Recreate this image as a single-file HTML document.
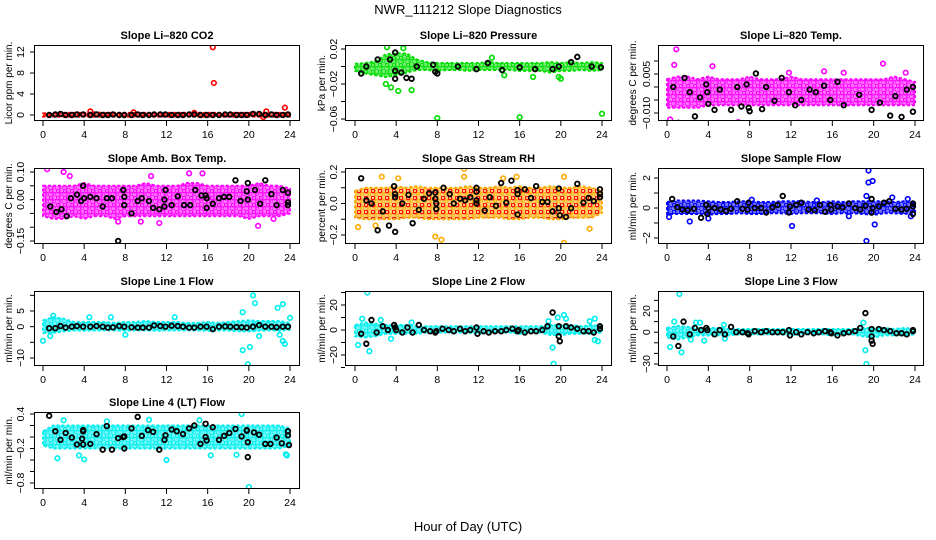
<!DOCTYPE html>
<html><head><meta charset="utf-8">
<style>
body{margin:0;background:#fff;}
svg{display:block;font-family:"Liberation Sans",sans-serif;}
</style></head>
<body>
<svg id="chart" width="936" height="540" viewBox="0 0 936 540">
<defs id="defs"></defs>
<text x="468" y="14" text-anchor="middle" font-size="13">NWR_111212  Slope Diagnostics</text>
<text x="468" y="531" text-anchor="middle" font-size="13">Hour of Day (UTC)</text>
</svg>
<script>
// ---- shared data ----
const hours = [0,1,2,3,4,5,6,7,8,9,10,11,12,13,14,15,16,17,18,19,20,21,22,23,24];
const xTicks = [0,4,8,12,16,20,24];

// Panel 1: CO2
const co2Lo = [-0.3,-0.3,-0.3,-0.3,-0.3,-0.3,-0.3,-0.3,-0.3,-0.3,-0.3,-0.3,-0.3,-0.3,-0.3,-0.3,-0.3,-0.3,-0.3,-0.3,-0.3,-0.3,-0.3,-0.3,-0.3];
const co2Hi = [0.3,0.4,0.4,0.4,0.4,0.5,0.4,0.4,0.4,0.4,0.4,0.4,0.4,0.4,0.4,0.4,0.4,0.4,0.4,0.4,0.4,0.5,0.4,0.4,0.3];
const co2OutX = [16.5,16.6,23.5,4.6,21.7,21.4,8.8,14.7];
const co2OutY = [12.9,6.1,1.4,0.7,0.7,-0.4,0.5,0.4];
const co2BlkX = [0.6,1.2,1.7,2.2,2.8,3.3,3.9,4.6,5.2,5.8,6.3,6.8,7.4,7.9,8.6,9.2,9.7,10.3,10.8,11.4,11.9,12.5,13.1,13.6,14.2,14.7,15.3,15.9,16.5,17.1,17.7,18.2,18.8,19.3,19.8,20.4,21.0,21.6,22.2,22.7,23.3,23.8];
const co2BlkY = [0.0,0.1,0.2,0.0,0.0,0.1,0.1,0.0,0.1,0.0,0.0,0.1,0.0,0.0,0.0,0.1,0.0,0.0,0.1,0.1,0.1,0.0,0.0,0.0,0.1,0.1,0.0,0.0,0.0,0.0,0.1,0.1,0.0,0.0,0.0,0.2,0.2,0.0,0.1,0.0,0.0,0.1];

// Panel 2: Pressure
const prLo = [-0.005,-0.008,-0.01,-0.012,-0.01,-0.007,-0.004,-0.004,-0.005,-0.004,-0.004,-0.005,-0.004,-0.004,-0.004,-0.004,-0.005,-0.005,-0.005,-0.007,-0.005,-0.005,-0.004,-0.005,-0.004];
const prHi = [0.003,0.004,0.006,0.014,0.015,0.015,0.008,0.005,0.004,0.004,0.004,0.004,0.004,0.005,0.004,0.004,0.004,0.004,0.004,0.005,0.004,0.005,0.004,0.005,0.004];
const prOutX = [3,3.5,4.2,5.5,8,16,24,13.3,17.3,14.5,20,3.1,4.7,19.8];
const prOutY = [-0.02,-0.024,-0.028,-0.027,-0.059,-0.058,-0.054,0.01,-0.012,-0.01,-0.014,0.022,0.021,-0.012];
const prBlkX = [0.6,1.1,2.2,3.4,3.9,3.9,3.9,4.5,5.0,5.5,6.0,7.6,7.8,8.0,10.0,11.8,12.9,14.3,16.0,17.5,19.2,19.8,21.0,21.6,23.0,23.9];
const prBlkY = [-0.008,0,0.008,0.008,0.016,-0.005,-0.014,-0.007,-0.013,-0.014,0,0.002,-0.006,-0.008,0,-0.003,0.004,-0.004,-0.001,-0.003,-0.003,0,0.005,0.011,0,-0.001];

// Panel 3: Li-820 temp
const tLo = [-0.008,-0.008,-0.008,-0.008,-0.007,-0.007,-0.007,-0.007,-0.007,-0.007,-0.007,-0.007,-0.007,-0.007,-0.007,-0.007,-0.007,-0.007,-0.007,-0.007,-0.007,-0.007,-0.007,-0.007,-0.007];
const tHi = [0.003,0.004,0.004,0.003,0.004,0.003,0.003,0.003,0.004,0.003,0.003,0.003,0.004,0.003,0.003,0.003,0.003,0.003,0.003,0.003,0.003,0.003,0.004,0.003,0.002];
const tOutX = [0.9,0.7,11.8,20.9,3.3,8.5,6.9,0.3,4.4,23.1,15.2,17.1];
const tOutY = [0.0145,0.0085,0.0055,0.009,-0.0145,-0.016,-0.0135,-0.0125,0.008,0.0055,0.006,0.0055];
const tBlkX = [0.6,1.1,1.7,2.2,2.7,3.2,3.8,3.9,4.0,4.6,5.1,6.2,6.8,7.2,7.7,7.9,8.0,8.6,9.2,9.6,10.4,11.1,11.8,12.4,13.0,13.8,14.4,15.2,15.8,16.5,17.1,18.6,19.8,20.6,21.6,22.1,22.7,23.2,23.8,23.8];
const tBlkY = [0,-0.0138,0.0035,-0.002,-0.0113,-0.004,0.001,-0.002,-0.0065,-0.0088,-0.001,-0.0088,0,-0.0075,0.001,-0.008,-0.0093,0.0052,-0.0085,0,-0.0053,0.0035,-0.002,-0.007,-0.005,-0.001,-0.002,0.0005,-0.005,0.002,-0.007,-0.003,-0.0088,-0.006,-0.011,-0.0035,-0.0115,-0.001,-0.0095,0];

// Panel 4: Amb box temp
const aLo = [-0.06,-0.07,-0.07,-0.06,-0.07,-0.06,-0.06,-0.07,-0.06,-0.06,-0.06,-0.06,-0.06,-0.06,-0.06,-0.06,-0.06,-0.06,-0.06,-0.06,-0.07,-0.06,-0.06,-0.06,-0.05];
const aHi = [0.05,0.05,0.05,0.05,0.06,0.05,0.05,0.05,0.05,0.05,0.06,0.05,0.05,0.05,0.06,0.06,0.05,0.05,0.05,0.05,0.05,0.06,0.05,0.05,0.04];
const aOutX = [0.4,2.0,2.6,7.3,11.3,20.9,22.4,15.5,10.5,14.2,9.5];
const aOutY = [0.11,0.1,0.085,-0.08,-0.085,-0.095,-0.07,0.095,0.085,0.095,-0.08];
const aBlkX = [0.7,1.3,1.8,2.3,2.7,3.3,3.7,3.9,4.0,4.6,5.2,5.8,6.2,6.7,7.3,7.8,7.9,7.9,8.6,9.2,9.6,10.3,10.7,11.3,11.8,11.8,11.9,12.5,13.1,13.7,14.3,14.8,15.4,15.8,15.9,15.9,16.5,17.1,17.6,18.1,18.7,19.2,19.8,19.9,19.9,20.6,21.1,21.6,22.2,22.7,23.3,23.8,23.8,23.8];
const aBlkY = [-0.025,-0.045,-0.035,-0.06,0.005,0.018,-0.005,0.05,0.005,0.01,0.005,-0.025,0.005,0.005,-0.15,0.035,0.01,-0.02,-0.05,-0.005,0.005,-0.005,-0.03,-0.035,-0.025,0,0.035,-0.02,0.012,-0.02,-0.02,0.035,0.015,0.015,0.005,-0.03,-0.015,0.005,0.01,0.01,0.07,-0.005,0.03,0.06,0,0.035,-0.015,0.07,0.02,-0.02,0.035,0.025,-0.01,-0.02];

// Panel 5: Gas stream RH
const rLo = [-0.09,-0.1,-0.1,-0.1,-0.1,-0.09,-0.09,-0.1,-0.1,-0.1,-0.1,-0.1,-0.09,-0.09,-0.09,-0.1,-0.1,-0.09,-0.09,-0.1,-0.1,-0.09,-0.09,-0.09,-0.06];
const rHi = [0.08,0.1,0.1,0.1,0.11,0.1,0.11,0.1,0.1,0.1,0.1,0.11,0.1,0.1,0.11,0.1,0.11,0.1,0.1,0.11,0.1,0.1,0.11,0.1,0.08];
const rOutX = [10.6,10.6,2.6,7.8,8.4,20.3,22.8,0.3,20.3,15.7,14.4,4.2,2.0];
const rOutY = [0.22,0.17,0.17,-0.21,-0.23,-0.25,-0.16,-0.15,0.17,0.17,0.16,0.16,-0.14];
const rBlkX = [0.6,1.1,1.6,2.2,2.7,3.3,3.8,3.9,3.9,3.9,4.6,5.2,5.6,6.2,6.7,7.2,7.8,7.8,7.9,7.9,8.6,9.2,9.6,10.2,10.7,11.2,11.8,11.8,11.8,11.8,12.6,13.1,13.7,14.2,14.7,15.2,15.8,15.8,15.8,16.5,17.1,17.6,18.2,18.7,19.2,19.8,19.8,19.9,20.5,21.0,21.6,22.2,22.7,23.2,23.8,23.8,23.8];
const rBlkY = [0.16,0.02,0,-0.17,-0.05,-0.14,0.11,0.06,0.04,-0.18,0,0.055,-0.125,-0.04,0.03,0.065,0.07,0.03,0,-0.035,0.1,0.06,0,0.03,0.02,0.04,0.1,0.075,0.02,0,-0.045,0.04,-0.015,0.13,0.005,0.145,0.085,0.06,-0.07,0.09,0.035,0.11,0.01,0.01,-0.05,0.095,-0.03,-0.075,-0.085,-0.03,0.125,0.005,0.035,0.015,0.09,0.06,0.04];

// Panel 6: Sample flow
const sLo = [-0.4,-0.4,-0.4,-0.4,-0.45,-0.4,-0.4,-0.35,-0.4,-0.4,-0.35,-0.35,-0.4,-0.35,-0.35,-0.35,-0.4,-0.35,-0.35,-0.4,-0.45,-0.35,-0.35,-0.4,-0.3];
const sHi = [0.4,0.5,0.5,0.5,0.45,0.4,0.4,0.45,0.45,0.4,0.4,0.45,0.45,0.45,0.4,0.4,0.45,0.4,0.45,0.45,0.45,0.45,0.4,0.45,0.3];
const sOutX = [19.5,19.5,19.9,19.3,20.1,12.1,2.2,4.0,19.3,21.8,23.3,0.2,8.2,14.5,17.6,23.6];
const sOutY = [2.5,1.7,1.8,-2.2,-1.1,-1.2,-0.9,-0.7,0.8,0.7,0.6,-0.6,0.55,0.5,-0.55,-0.55];
const sBlkX = [0.5,1.0,1.5,2.0,2.6,3.3,3.8,3.9,4.0,4.6,5.2,5.7,6.2,6.8,7.3,7.8,7.9,8.5,9.1,9.6,10.2,10.7,11.2,11.8,11.9,12.5,13.0,13.7,14.3,14.8,15.3,15.8,15.9,16.5,17.0,17.6,18.2,18.7,19.2,19.8,19.8,19.9,20.5,21.0,21.5,22.1,22.7,23.2,23.8,23.8,23.8];
const sBlkY = [0.6,0.05,-0.1,-0.15,-0.05,-0.65,0.2,-0.4,0,0,-0.1,-0.2,-0.05,0.45,-0.05,-0.1,0.35,0,0,-0.3,0.05,0.2,0.8,-0.3,0.1,0.2,0.35,-0.1,-0.15,0.2,-0.25,0.2,-0.1,0.1,0.05,0.3,0,-0.1,0.15,0.6,-0.3,0,0.1,0.35,0.45,-0.05,-0.1,-0.05,0.3,0.1,-0.4];

// Panel 7: Line 1 flow
const l1Lo = [-2,-2,-1.5,-1.2,-1.3,-1.2,-1.2,-1.2,-1.3,-1.2,-1.2,-1.3,-1.2,-1.2,-1.2,-1.2,-1.3,-1.2,-1.2,-1.5,-1.5,-1.3,-1.2,-1.3,-1];
const l1Hi = [2,3,2.5,1.5,1.5,1.5,1.5,1.2,1.5,1.5,1.8,1.5,1.5,1.5,1.2,1.2,1.5,1.2,1.5,1.8,2,1.8,1.8,1.8,1.2];
const l1OutX = [0,0.7,1,20.4,20.6,19.4,20.1,19.9,22.8,23.3,23,23.3,23.5,19.4,24,4.5,8,12.8,21,6.6];
const l1OutY = [-4.5,-3,3.5,10,7.5,-7.5,-6.5,-12,6,7.2,-2.6,-4.6,-5.5,4.6,2.8,3,-2.6,3,-3,3];
const l1BlkX = [0.6,1.2,1.7,2.2,2.8,3.3,3.9,4.6,5.2,5.8,6.3,6.8,7.4,7.9,8.6,9.2,9.7,10.3,10.8,11.4,11.9,12.5,13.1,13.6,14.2,14.7,15.3,15.9,16.5,17.1,17.7,18.2,18.8,19.3,19.8,20.4,21.0,21.6,22.2,22.7,23.3,23.8];
const l1BlkY = [-0.5,-0.5,0.2,-0.3,0,0.2,0,0,0.2,0,-0.3,-0.2,0.2,0,-0.2,-0.3,-0.3,-0.3,0.4,0.2,0,0.3,0.2,0,-0.3,-0.3,0,0,-0.8,0,0.1,0,-0.1,-0.2,-0.3,0,0.5,0,0,-0.2,0,0];

// Panel 8: Line 2 flow
const l2Lo = [-5,-6,-5,-3,-3,-3,-3,-2,-2,-2,-2,-2,-3,-2,-2,-2,-3,-2,-2,-4,-4,-3,-3,-3,-2];
const l2Hi = [4,6,5,4,4,4,3,3,3,3,3,3,3,3,3,3,3,3,3,4,4,4,3,4,3];
const l2OutX = [1.2,0.3,1.4,0.7,2.5,3.5,5.5,19.2,19.3,19.7,20.3,20.5,22.8,23.3,23.3,23.6,18.8];
const l2OutY = [30,-12,-17,9,8,-7,6,-14,-27,10,12,9,7,9,-8,-9,7];
const l2BlkX = [0.6,1.1,1.6,2.1,2.7,3.2,3.8,3.9,4.0,4.6,5.1,5.6,6.2,6.7,7.3,7.8,7.9,8.5,9.1,9.6,10.2,10.7,11.2,11.8,11.9,12.5,13.0,13.6,14.2,14.7,15.3,15.8,15.9,16.5,17.1,17.6,18.2,18.7,19.2,19.8,19.8,19.9,20.5,21.0,21.6,22.2,22.7,23.2,23.8,23.8];
const l2BlkY = [-3,-11,8,-2,3,0,4,2,0,-2,2,-2,4,0,-1,-2,-1,1,0,-1,1,-1,0,2,-3,-1,-2,-1,-1,0,1,-1,0,-2,-1,-1,0,3,14,3,-5,-9,3,2,1,-1,-1,-2,3,1];

// Panel 9: Line 3 flow
const l3Lo = [-5,-7,-5,-3,-3,-3,-3,-2,-2,-2,-2,-2,-3,-2,-2,-2,-3,-2,-2,-4,-5,-3,-3,-3,-2];
const l3Hi = [4,6,5,4,4,4,3,3,3,3,3,3,3,3,3,3,3,3,3,4,4,4,3,4,3];
const l3OutX = [1.2,0.3,1.4,0.7,2.3,2.8,3.2,3.6,5.5,19.2,19.3,19.0,5.6];
const l3OutY = [36,-14,-19,10,-7,9,9,-8,7,-17,-30,9,-6];
const l3BlkX = [0.6,1.1,1.6,2.2,2.7,3.3,3.8,3.9,4.6,5.1,5.6,6.2,6.7,7.3,7.8,7.9,8.5,9.1,9.6,10.2,10.7,11.2,11.8,11.9,12.5,13.0,13.6,14.2,14.7,15.3,15.8,15.9,16.5,17.1,17.6,18.2,18.7,19.2,19.8,19.8,19.8,19.9,20.5,21.0,21.6,22.2,22.7,23.2,23.8,23.8];
const l3BlkY = [-4,-13,10,-2,4,2,4,2,-2,2,-2,5,0,0,-1,-2,1,0,1,0,0,0,2,-3,0,-2,0,-1,0,1,0,-1,-3,-1,0,1,4,18,3,-4,-8,-11,3,2,1,-1,-1,-2,2,1];

// Panel 10: Line 4 (LT) flow
const l4Lo = [-0.15,-0.2,-0.2,-0.2,-0.2,-0.2,-0.2,-0.2,-0.2,-0.2,-0.2,-0.2,-0.2,-0.2,-0.2,-0.2,-0.2,-0.2,-0.2,-0.2,-0.2,-0.2,-0.2,-0.2,-0.15];
const l4Hi = [0.1,0.2,0.2,0.2,0.2,0.2,0.2,0.2,0.2,0.2,0.2,0.2,0.2,0.2,0.2,0.2,0.2,0.2,0.2,0.2,0.2,0.2,0.2,0.2,0.15];
const l4OutX = [1.4,2.0,3.5,4.0,12,16.3,19.3,20,23.6,23.7,6.2,18.8,10.3,15.2];
const l4OutY = [-0.37,0.29,-0.32,-0.39,-0.4,-0.32,0.4,-0.87,-0.3,-0.32,0.27,-0.31,0.3,0.29];
const l4BlkX = [0.6,1.2,1.7,2.2,2.8,3.3,3.8,3.9,3.9,3.9,4.6,5.2,5.8,6.2,6.7,7.3,7.8,7.9,7.9,8.6,9.2,9.6,10.2,10.7,11.3,11.8,11.9,12.5,13,13.6,14.2,14.7,15.3,15.8,15.8,15.9,16.5,17.1,17.6,18.1,18.7,19.3,19.8,19.8,19.9,19.9,20.5,21,21.6,22.1,22.7,23.2,23.8,23.8,23.9];
const l4BlkY = [0.37,0.1,-0.05,0.07,-0.01,-0.13,-0.03,0.1,0.12,-0.13,-0.12,0.05,-0.22,0.19,-0.22,-0.02,0,-0.2,0.01,0.15,0.35,0.02,0.12,0.09,-0.22,-0.05,0.03,0.13,0.1,0.05,0.15,0.2,-0.12,0.23,0,-0.06,0.17,-0.05,0.02,0.07,0.14,0.01,0.12,0.11,-0.09,-0.35,0.08,0.04,-0.12,-0.12,-0.01,-0.11,0.1,0.03,-0.14];

// ---- layout (presentation only) ----
const cols = [{l:34,r:300,x0:43,x24:290,yl:9,tl:24},{l:345,r:612,x0:355,x24:602,yl:322,tl:337},{l:658,r:924,x0:667,x24:915,yl:633,tl:650}];
const rows = [{t:45,b:121},{t:168,b:244},{t:291,b:366},{t:412,b:489}];

const panels = [
 {name:'co2',title:'Slope Li\u2013820 CO2',c:0,r:0,ylab:'Licor ppm per min.',col:'#ff0000',v1:12,p1:52,v2:0,p2:115,ticks:[0,4,8,12],labs:['0','4','8','12'],lo:co2Lo,hi:co2Hi,ox:co2OutX,oy:co2OutY,bx:co2BlkX,by:co2BlkY},
 {name:'pressure',title:'Slope Li\u2013820 Pressure',c:1,r:0,ylab:'kPa per min.',col:'#00dd00',v1:0.02,p1:49,v2:-0.06,p2:119,ticks:[0.02,0,-0.02,-0.04,-0.06],labs:['0.02','','\u22120.02','','\u22120.06'],lo:prLo,hi:prHi,ox:prOutX,oy:prOutY,bx:prBlkX,by:prBlkY},
 {name:'li820-temp',title:'Slope Li\u2013820 Temp.',c:2,r:0,ylab:'degrees C per min.',col:'#ff00ff',v1:0.005,p1:74,v2:-0.010,p2:113,ticks:[0.01,0.005,0,-0.005,-0.01,-0.015],labs:['','0.005','','','\u22120.010',''],lo:tLo,hi:tHi,ox:tOutX,oy:tOutY,bx:tBlkX,by:tBlkY},
 {name:'amb-box-temp',title:'Slope Amb. Box Temp.',c:0,r:1,ylab:'degrees C per min.',col:'#ff00ff',v1:0.10,p1:172,v2:-0.15,p2:241,ticks:[0.1,0.05,0,-0.05,-0.1,-0.15],labs:['0.10','','0.00','','','\u22120.15'],lo:aLo,hi:aHi,ox:aOutX,oy:aOutY,bx:aBlkX,by:aBlkY},
 {name:'gas-stream-rh',title:'Slope Gas Stream RH',c:1,r:1,ylab:'percent per min.',col:'#ffaa00',dot:'#ff0000',v1:0.2,p1:172,v2:-0.2,p2:235,ticks:[0.2,0.1,0,-0.1,-0.2],labs:['0.2','','0.0','','\u22120.2'],lo:rLo,hi:rHi,ox:rOutX,oy:rOutY,bx:rBlkX,by:rBlkY},
 {name:'sample-flow',title:'Slope Sample Flow',c:2,r:1,ylab:'ml/min per min.',col:'#0000ff',v1:2,p1:178,v2:-2,p2:238,ticks:[2,1,0,-1,-2],labs:['2','','0','','\u22122'],lo:sLo,hi:sHi,ox:sOutX,oy:sOutY,bx:sBlkX,by:sBlkY},
 {name:'line1-flow',title:'Slope Line 1 Flow',c:0,r:2,ylab:'ml/min per min.',col:'#00eeee',v1:5,p1:311,v2:-10,p2:358,ticks:[10,5,0,-5,-10],labs:['','5','0','','\u221210'],lo:l1Lo,hi:l1Hi,ox:l1OutX,oy:l1OutY,bx:l1BlkX,by:l1BlkY},
 {name:'line2-flow',title:'Slope Line 2 Flow',c:1,r:2,ylab:'ml/min per min.',col:'#00eeee',v1:20,p1:305,v2:-20,p2:355,ticks:[30,20,10,0,-10,-20,-30],labs:['','20','','0','','\u221220',''],lo:l2Lo,hi:l2Hi,ox:l2OutX,oy:l2OutY,bx:l2BlkX,by:l2BlkY},
 {name:'line3-flow',title:'Slope Line 3 Flow',c:2,r:2,ylab:'ml/min per min.',col:'#00eeee',v1:20,p1:311,v2:-30,p2:364,ticks:[30,20,10,0,-10,-20,-30],labs:['','20','','0','','','\u221230'],lo:l3Lo,hi:l3Hi,ox:l3OutX,oy:l3OutY,bx:l3BlkX,by:l3BlkY},
 {name:'line4-flow',title:'Slope Line 4 (LT) Flow',c:0,r:3,ylab:'ml/min per min.',col:'#00eeee',v1:0.4,p1:414,v2:-0.8,p2:483,ticks:[0.4,0.2,0,-0.2,-0.4,-0.6,-0.8],labs:['0.4','','','\u22120.2','','','\u22120.8'],lo:l4Lo,hi:l4Hi,ox:l4OutX,oy:l4OutY,bx:l4BlkX,by:l4BlkY}
];

const svg = document.getElementById('chart');
const defs = document.getElementById('defs');
const NS = 'http://www.w3.org/2000/svg';
function mk(tag, attrs, parent){const e=document.createElementNS(NS,tag);for(const k in attrs)e.setAttribute(k,attrs[k]);(parent||svg).appendChild(e);return e;}

panels.forEach(p=>{
  const C=cols[p.c], R=rows[p.r];
  const xs = h => C.x0 + (C.x24-C.x0)*h/24;
  const ys = v => p.p1 + (v-p.v1)*(p.p2-p.p1)/(p.v2-p.v1);
  // speckle pattern for dense band
  const pat=mk('pattern',{id:'pat-'+p.name,width:7,height:7,patternUnits:'userSpaceOnUse'},defs);
  mk('rect',{x:0,y:0,width:7,height:7,fill:p.col,'fill-opacity':0.55},pat);
  mk('circle',{cx:2,cy:2,r:1.8,fill:'none',stroke:p.dot||p.col,'stroke-width':1.2},pat);
  mk('circle',{cx:5.5,cy:5.5,r:1.8,fill:'none',stroke:p.col,'stroke-width':1.2},pat);
  const g = mk('g',{});
  
  
  const clipId='clip-'+p.name;
  const cp=mk('clipPath',{id:clipId},g);
  mk('rect',{x:C.l,y:R.t,width:C.r-C.l,height:R.b-R.t},cp);
  const plot=mk('g',{'clip-path':'url(#'+clipId+')'},g);
  let d='';
  hours.forEach((h,i)=>{d+=(i?'L':'M')+xs(h).toFixed(1)+','+ys(p.hi[i]).toFixed(1);});
  for(let i=hours.length-1;i>=0;i--){d+='L'+xs(hours[i]).toFixed(1)+','+ys(p.lo[i]).toFixed(1);}
  const band=mk('path',{d:d+'Z',fill:'url(#pat-'+p.name+')',stroke:p.col,'stroke-width':2,'stroke-dasharray':'3 2','stroke-linejoin':'round'},plot);
  
  
  p.ox.forEach((x,i)=>{
    const c=mk('circle',{cx:xs(x),cy:ys(p.oy[i]),r:2.3,fill:'none',stroke:p.col,'stroke-width':1.6},plot);
    
    
  });
  p.bx.forEach((x,i)=>{
    const c=mk('circle',{cx:xs(x),cy:ys(p.by[i]),r:2.3,fill:'none',stroke:'#000','stroke-width':1.8},plot);
    
    
  });
  const box=mk('rect',{x:C.l+0.5,y:R.t+0.5,width:C.r-C.l-1,height:R.b-R.t-1,fill:'none',stroke:'#000','stroke-width':1},g);
  
  
  const t=mk('text',{x:(C.l+C.r)/2,y:R.t-6,'text-anchor':'middle','font-size':11,'font-weight':'bold'},g);
  t.textContent=p.title;
  
  
  xTicks.forEach(h=>{
    mk('line',{x1:xs(h),x2:xs(h),y1:R.b,y2:R.b+5,stroke:'#000'},g);
    const tl=mk('text',{x:xs(h),y:R.b+17,'text-anchor':'middle','font-size':10.5},g);
    tl.textContent=h;
    
    
  });
  p.ticks.forEach((v,i)=>{
    const y=ys(v);
    if(y<R.t-2||y>R.b+2) return;
    mk('line',{x1:C.l-4,x2:C.l,y1:y,y2:y,stroke:'#000'},g);
    if(p.labs[i]){
      const tl=mk('text',{x:C.tl,y:y,'text-anchor':'middle','font-size':10.5,transform:'rotate(-90 '+C.tl+' '+y+')'},g);
      tl.textContent=p.labs[i];
      
      
    }
  });
  const my=(R.t+R.b)/2;
  const yl=mk('text',{x:C.yl+3,y:my,'text-anchor':'middle','font-size':10,transform:'rotate(-90 '+(C.yl+3)+' '+my+')'},g);
  yl.textContent=p.ylab;
  
  
});
</script>
</body></html>
